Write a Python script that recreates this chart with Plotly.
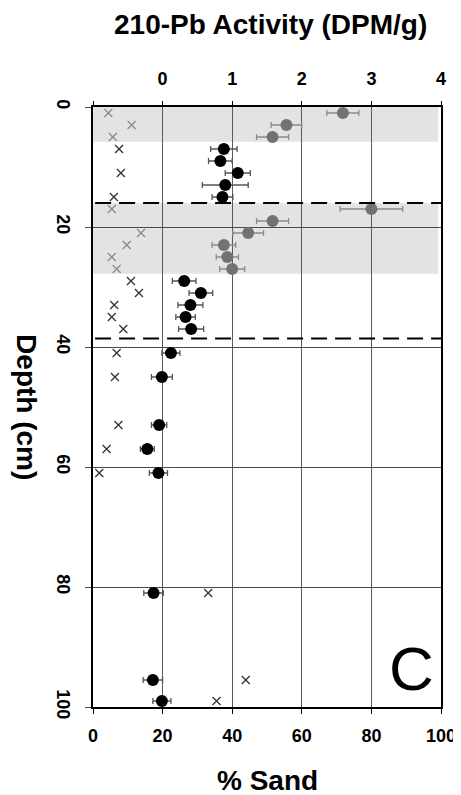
import plotly.graph_objects as go

# 210-Pb activity (DPM/g) vs depth (cm)
pb_gray_depth = [1, 3, 5, 17, 19, 21, 23, 25, 27]
pb_gray = [2.59, 1.78, 1.58, 3.00, 1.58, 1.23, 0.88, 0.93, 1.00]
pb_gray_err = [0.23, 0.22, 0.23, 0.45, 0.23, 0.22, 0.17, 0.16, 0.18]

pb_black_depth = [7, 9, 11, 13, 15, 29, 31, 33, 35, 37, 41, 45, 53, 57, 61, 81, 95.5, 99]
pb_black = [0.88, 0.83, 1.08, 0.90, 0.86, 0.31, 0.55, 0.40, 0.33, 0.41,
            0.12, -0.01, -0.05, -0.22, -0.06, -0.13, -0.14, -0.01]
pb_black_err = [0.19, 0.17, 0.18, 0.33, 0.15, 0.17, 0.17, 0.18, 0.14, 0.18,
                0.13, 0.15, 0.11, 0.10, 0.13, 0.14, 0.14, 0.13]

# % sand vs depth
sand_gray_depth = [1, 3, 5, 17, 21, 23, 25, 27]
sand_gray = [4.4, 11.1, 5.7, 5.4, 13.8, 9.7, 5.4, 6.8]

sand_black_depth = [7, 11, 15, 29, 31, 33, 35, 37, 41, 45, 53, 57, 61, 81, 95.5, 99]
sand_black = [7.5, 8.0, 6.0, 10.9, 13.2, 6.1, 5.4, 8.7, 6.8, 6.3, 7.3, 3.9, 1.8, 33.1, 43.9, 35.5]

# shaded intervals and dashed boundaries (depth, cm)
bands = [(0, 5.8), (16, 27.8)]
dashed_depths = [16, 38.6]

sand_ticks = [0, 20, 40, 60, 80, 100]
pb_ticks = [-1, 0, 1, 2, 3, 4]
depth_ticks = [0, 20, 40, 60, 80, 100]

FONT = "Liberation Sans, Arial, sans-serif"
GRAY = "#727272"

fig = go.Figure()

# sand crosses
fig.add_trace(go.Scatter(
    x=sand_gray, y=sand_gray_depth, mode="markers", xaxis="x", yaxis="y",
    marker=dict(symbol="x-thin", size=8, line=dict(width=1.3, color="#8a8a8a")),
    showlegend=False,
))
fig.add_trace(go.Scatter(
    x=sand_black, y=sand_black_depth, mode="markers", xaxis="x", yaxis="y",
    marker=dict(symbol="x-thin", size=8, line=dict(width=1.3, color="#333333")),
    showlegend=False,
))

# Pb activity circles with error bars
fig.add_trace(go.Scatter(
    x=pb_gray, y=pb_gray_depth, mode="markers", xaxis="x2", yaxis="y",
    marker=dict(symbol="circle", size=12, color=GRAY),
    error_x=dict(type="data", array=pb_gray_err, color="#8c8c8c", thickness=1.3, width=3),
    showlegend=False,
))
fig.add_trace(go.Scatter(
    x=pb_black, y=pb_black_depth, mode="markers", xaxis="x2", yaxis="y",
    marker=dict(symbol="circle", size=12, color="black"),
    error_x=dict(type="data", array=pb_black_err, color="#555555", thickness=1.3, width=3),
    showlegend=False,
))

shapes = []
for top, bottom in bands:
    shapes.append(dict(type="rect", xref="x", yref="y", x0=0, x1=99.2, y0=top, y1=bottom,
                       fillcolor="#e3e3e3", line=dict(width=0), layer="below"))
for d in dashed_depths:
    shapes.append(dict(type="line", xref="x", yref="y", x0=0.6, x1=100, y0=d, y1=d,
                       line=dict(color="black", width=2, dash="16px,8px")))
fig.update_layout(shapes=shapes)

tickfont = dict(family=FONT, size=18, color="black", weight="bold")

# page body has an 8px margin, so the figure is a bit smaller than the window
fig.update_layout(
    width=453, height=787,
    margin=dict(l=85, r=20, t=99, b=88, autoexpand=False),
    plot_bgcolor="white", paper_bgcolor="white",
    xaxis=dict(
        range=[0, 100], tickvals=sand_ticks, side="bottom", automargin=False,
        showgrid=True, gridcolor="#5a5a5a", gridwidth=1.2,
        showline=True, mirror=True, linecolor="black", linewidth=2,
        ticks="outside", ticklen=5, tickcolor="black", tickwidth=1,
        tickfont=tickfont, ticklabelstandoff=6, zeroline=False,
    ),
    xaxis2=dict(
        range=[-1, 4], overlaying="x", side="top", automargin=False,
        tickvals=pb_ticks, ticktext=["", "0", "1", "2", "3", "4"],
        showgrid=False, showline=False, zeroline=False,
        ticks="outside", ticklen=5, tickcolor="black", tickwidth=1,
        tickfont=tickfont, ticklabelstandoff=9,
    ),
    yaxis=dict(
        range=[100, 0], tickvals=depth_ticks, automargin=False,
        showgrid=True, gridcolor="#4a4a4a", gridwidth=1.2,
        showline=True, mirror=True, linecolor="black", linewidth=2,
        ticks="outside", ticklen=6, tickcolor="#4a4a4a", tickwidth=1.2,
        tickangle=90, tickfont=tickfont, ticklabelstandoff=6, zeroline=False,
    ),
    annotations=[
        dict(text="210-Pb Activity (DPM/g)", xref="paper", yref="paper", x=0.51, y=1.137,
             xanchor="center", yanchor="middle", showarrow=False,
             font=dict(family=FONT, size=28, color="black", weight="bold")),
        dict(text="% Sand", xref="paper", yref="paper", x=0.5, y=-0.122,
             xanchor="center", yanchor="middle", showarrow=False,
             font=dict(family=FONT, size=28, color="black", weight="bold")),
        dict(text="Depth (cm)", xref="paper", yref="paper", x=-0.19, y=0.5,
             xanchor="center", yanchor="middle", showarrow=False, textangle=90,
             font=dict(family=FONT, size=28, color="black", weight="bold")),
        dict(text="C", xref="x", yref="y", x=98.5, y=93.5,
             xanchor="right", yanchor="middle", showarrow=False,
             font=dict(family=FONT, size=62, color="black")),
    ],
)

fig.write_html("out.html")
